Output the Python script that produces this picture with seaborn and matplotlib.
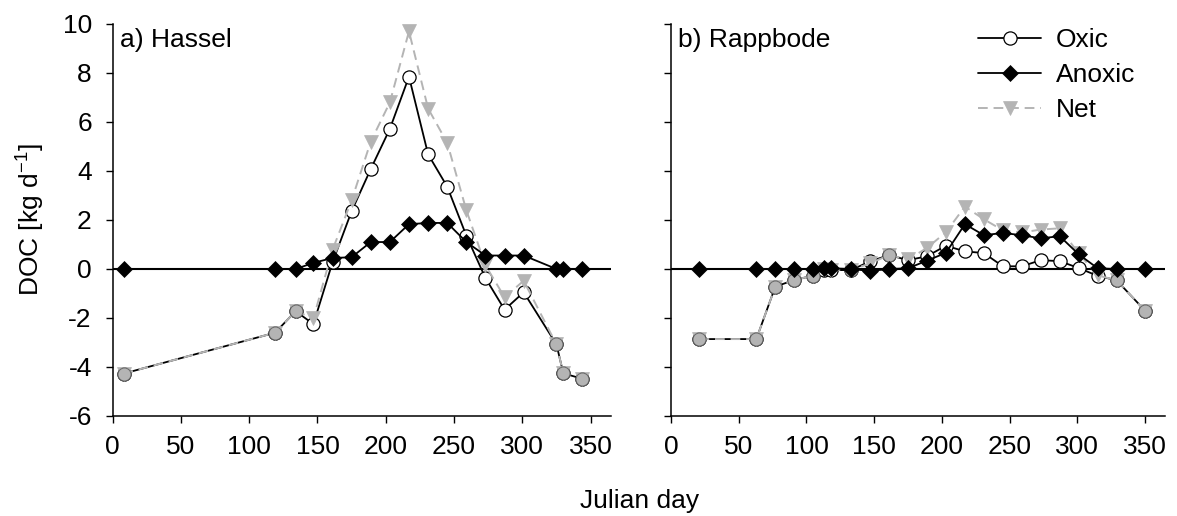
import numpy as np
import matplotlib
matplotlib.use("Agg")
import matplotlib.pyplot as plt
import seaborn as sns

# --- data (Julian day, DOC in kg/d) ---
days_hassel = [8, 119, 134, 147, 161, 175, 189, 203, 217, 231, 245, 259, 273, 287, 301, 325, 330, 344]
oxic_hassel = [-4.27, -2.6, -1.72, -2.25, 0.27, 2.36, 4.08, 5.72, 7.85, 4.68, 3.36, 1.36,
               -0.37, -1.66, -0.95, -3.08, -4.26, -4.48]
anoxic_hassel = [0, 0, 0, 0.25, 0.45, 0.48, 1.1, 1.1, 1.83, 1.88, 1.88, 1.1, 0.55, 0.55, 0.55, 0, 0, 0]
net_hassel = [-4.27, -2.6, -1.72, -2.02, 0.78, 2.8, 5.2, 6.8, 9.7, 6.55, 5.15, 2.4,
              0.15, -1.15, -0.48, -3.08, -4.26, -4.48]

days_rapp = [21, 63, 77, 91, 105, 113, 118, 133, 147, 161, 175, 189, 203, 217, 231, 245,
             259, 273, 287, 301, 315, 329, 350]
oxic_rapp = [-2.86, -2.86, -0.72, -0.45, -0.27, -0.05, -0.05, -0.04, 0.31, 0.57, 0.36, 0.52,
             0.95, 0.72, 0.65, 0.11, 0.11, 0.36, 0.32, 0.04, -0.28, -0.46, -1.7]
anoxic_rapp = [0, 0, 0, 0, 0, 0.04, 0.03, 0, -0.08, 0, 0.03, 0.34, 0.66, 1.83, 1.38, 1.47,
               1.38, 1.25, 1.34, 0.6, 0.03, 0, 0]
net_rapp = [-2.86, -2.86, -0.72, -0.45, -0.27, -0.02, -0.03, -0.04, 0.23, 0.57, 0.39, 0.86,
            1.5, 2.55, 2.03, 1.58, 1.49, 1.61, 1.66, 0.64, -0.26, -0.46, -1.7]

panel_titles = ["a) Hassel", "b) Rappbode"]
y_ticks = [-6, -4, -2, 0, 2, 4, 6, 8, 10]
x_ticks = [0, 50, 100, 150, 200, 250, 300, 350]

GREY = "#b4b4b4"
FS = 19

sns.set_theme(style="ticks")
plt.rcParams["font.family"] = ["Liberation Sans", "DejaVu Sans"]
plt.rcParams["mathtext.fontset"] = "custom"
plt.rcParams["mathtext.rm"] = "Liberation Sans"
plt.rcParams["axes.unicode_minus"] = False
plt.rcParams["text.color"] = "black"
plt.rcParams["axes.labelcolor"] = "black"
plt.rcParams["xtick.color"] = "black"
plt.rcParams["ytick.color"] = "black"


def draw_panel(ax, days, oxic, anoxic, net, title):
    days = np.asarray(days)
    oxic = np.asarray(oxic)
    anoxic = np.asarray(anoxic)
    ax.axhline(0, color="black", lw=1.5, zorder=1)
    # oxic: black line, open circles
    sns.lineplot(x=days, y=oxic, ax=ax, color="black", lw=1.3, marker="o", ms=9.5,
                 mfc="white", mec="black", mew=0.9, label="Oxic", zorder=3)
    # net: grey dashed line, down triangles
    sns.lineplot(x=days, y=net, ax=ax, color=GREY, lw=1.4, linestyle=(0, (5, 3)),
                 marker="v", ms=10, mfc=GREY, mec=GREY, mew=0.5, label="Net", zorder=4)
    # where there is no anoxic flux the oxic symbol shows grey
    same = anoxic == 0
    sns.scatterplot(x=days[same], y=oxic[same], ax=ax, marker="o", s=88, color=GREY,
                    edgecolor="#666666", linewidth=0.7, zorder=5, legend=False)
    # anoxic: black line, filled diamonds
    sns.lineplot(x=days, y=anoxic, ax=ax, color="black", lw=1.3, marker="D", ms=8,
                 mfc="black", mec="black", mew=0.5, label="Anoxic", zorder=6)
    ax.text(0.015, 0.96, title, transform=ax.transAxes, fontsize=FS, va="center", ha="left")
    ax.set_xlim(0, 365)
    ax.set_ylim(-6, 10)
    ax.set_xticks(x_ticks)
    ax.set_yticks(y_ticks)
    ax.tick_params(direction="out", length=5, width=1.0, labelsize=FS, pad=9)
    ax.tick_params(axis="y", pad=10)
    for s in ["left", "bottom"]:
        ax.spines[s].set_linewidth(1.1)
        ax.spines[s].set_color("black")
    sns.despine(ax=ax)
    ax.set_xlabel("")
    ax.set_ylabel("")


fig = plt.figure(figsize=(11.77, 5.16), dpi=100)
ax1 = fig.add_axes([0.0957, 0.1938, 0.4235, 0.7597])
ax2 = fig.add_axes([0.5701, 0.1938, 0.4200, 0.7597])

draw_panel(ax1, days_hassel, oxic_hassel, anoxic_hassel, net_hassel, panel_titles[0])
draw_panel(ax2, days_rapp, oxic_rapp, anoxic_rapp, net_rapp, panel_titles[1])
ax1.get_legend().remove()
ax2.set_yticklabels([])

handles, labels = ax2.get_legend_handles_labels()
lookup = dict(zip(labels, handles))
ax2.get_legend().remove()
fig.legend([lookup[k] for k in ["Oxic", "Anoxic", "Net"]], ["Oxic", "Anoxic", "Net"],
           loc="upper left", bbox_to_anchor=(978 / 1177, 1 - 28 / 516),
           frameon=False, fontsize=FS, handlelength=2.4, handletextpad=0.56,
           labelspacing=0.42, borderpad=0, borderaxespad=0)

fig.text(30 / 1177, 1 - 220 / 516, r"DOC [kg d$^{\mathregular{-1}}$]", fontsize=FS,
         rotation=90, ha="center", va="center")
fig.text(640 / 1177, 1 - 501 / 516, "Julian day", fontsize=FS, ha="center", va="center")

fig.savefig("out.png", dpi=100)
